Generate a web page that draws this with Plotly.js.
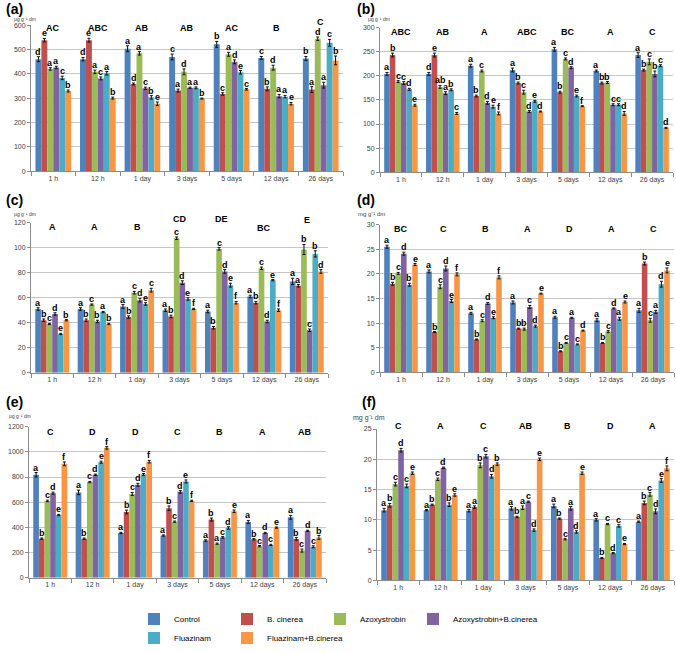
<!DOCTYPE html>
<html>
<head>
<meta charset="utf-8">
<script src="https://cdn.plot.ly/plotly-3.0.1.min.js"></script>
<style>
  html, body { margin: 0; padding: 0; background: #fff; }
  #chart { width: 676px; height: 653px; }
</style>
</head>
<body>
<div id="chart"></div>
<script>
// Sampling times, shared x categories of every panel
const times = ["1 h", "12 h", "1 day", "3 days", "5 days", "12 days", "26 days"];

// Treatments, one bar series each
const treatments = ["Control", "B. cinerea", "Azoxystrobin", "Azoxystrobin+B.cinerea", "Fluazinam", "Fluazinam+B.cinerea"];

// Panel (a) - rows follow treatments, columns follow times
const valuesA = [
  [461, 461, 504, 470, 522, 466, 464],
  [539, 539, 359, 332, 318, 339, 336],
  [421, 409, 485, 409, 481, 426, 545],
  [427, 382, 341, 343, 450, 309, 354],
  [384, 403, 304, 343, 407, 307, 528],
  [330, 301, 278, 299, 337, 278, 456]
];
const errorsA = [
  [10, 7, 12, 12, 12, 6, 8],
  [7, 8, 4, 6, 5, 8, 12],
  [5, 7, 7, 12, 8, 10, 7],
  [5, 6, 5, 3, 8, 7, 12],
  [7, 7, 7, 4, 7, 5, 14],
  [4, 4, 7, 2, 3, 5, 18]
];
const lettersA = [
  ["d", "d", "a", "c", "b", "c", "b"],
  ["e", "e", "d", "a", "c", "b", "a"],
  ["a", "a", "a", "d", "a", "d", "d"],
  ["a", "c", "c", "a", "d", "a", "a"],
  ["c", "a", "b", "a", "e", "a", "c"],
  ["b", "b", "e", "b", "c", "e", "b"]
];
const groupsA = ["AC", "ABC", "AB", "AB", "AC", "B", "C"];

// Panel (b)
const valuesB = [
  [204, 204, 221, 212, 255, 210, 243],
  [243, 243, 158, 185, 166, 185, 212],
  [188, 177, 210, 166, 235, 186, 229],
  [185, 164, 144, 126, 217, 140, 204],
  [172, 171, 136, 147, 158, 140, 221],
  [139, 122, 122, 126, 137, 122, 92]
];
const errorsB = [
  [3, 3, 3, 4, 4, 2, 5],
  [4, 4, 2, 2, 2, 2, 2],
  [2, 3, 2, 4, 2, 2, 6],
  [3, 3, 3, 2, 2, 2, 6],
  [2, 2, 3, 2, 2, 2, 2],
  [2, 2, 3, 1, 1, 4, 1]
];
const lettersB = [
  ["a", "d", "a", "a", "a", "a", "a"],
  ["b", "e", "b", "b", "b", "b", "b"],
  ["c", "ab", "c", "c", "c", "b", "c"],
  ["c", "a", "d", "d", "d", "c", "b"],
  ["d", "b", "e", "e", "e", "c", "c"],
  ["e", "c", "f", "d", "f", "d", "d"]
];
const groupsB = ["ABC", "AB", "A", "ABC", "BC", "A", "C"];

// Panel (c)
const valuesC = [
  [51, 51, 53, 50, 49, 61, 73],
  [42, 42, 44.5, 45, 36, 56, 69.5],
  [39, 54.5, 64, 107.5, 99, 83.5, 98.5],
  [47, 41, 58, 72, 81, 41, 34],
  [31, 48.5, 55, 59, 70, 74, 95],
  [42, 39, 66, 51, 56, 50, 81]
];
const errorsC = [
  [1, 1, 1.5, 1, 1, 1, 2.5],
  [1, 1, 1, 1, 1, 1, 1],
  [0.5, 0.5, 1, 1, 1, 1, 4],
  [1, 1, 1.5, 1.5, 1.5, 1, 1],
  [0.5, 0.5, 1, 1, 1.5, 0.5, 2.5],
  [0.5, 0.5, 1.5, 0.5, 1, 1, 1.5]
];
const lettersC = [
  ["a", "a", "a", "a", "a", "a", "a"],
  ["b", "b", "b", "b", "b", "b", "a"],
  ["c", "c", "c", "c", "c", "c", "b"],
  ["d", "b", "d", "d", "d", "d", "c"],
  ["e", "a", "e", "e", "e", "e", "b"],
  ["b", "b", "c", "f", "f", "f", "d"]
];
const groupsC = ["A", "A", "B", "CD", "DE", "BC", "E"];

// Panel (d)
const valuesD = [
  [25.5, 20.5, 12.0, 14.2, 11.2, 10.6, 12.6],
  [18.0, 8.2, 6.7, 8.9, 4.3, 6.0, 22.1],
  [20.1, 17.4, 10.5, 8.8, 6.0, 8.3, 10.6],
  [24.1, 21.1, 14.0, 13.3, 11.1, 13.0, 12.3],
  [17.8, 14.5, 11.1, 9.4, 5.7, 10.9, 17.9],
  [21.9, 19.9, 19.3, 16.0, 8.5, 14.3, 20.7]
];
const errorsD = [
  [0.3, 0.3, 0.2, 0.3, 0.2, 0.3, 0.4],
  [0.3, 0.1, 0.1, 0.1, 0.1, 0.1, 0.3],
  [0.2, 0.4, 0.2, 0.2, 0.1, 0.2, 0.4],
  [0.3, 0.5, 0.2, 0.3, 0.1, 0.1, 0.3],
  [0.3, 0.3, 0.2, 0.2, 0.1, 0.3, 0.6],
  [0.2, 0.3, 0.3, 0.1, 0.1, 0.2, 0.5]
];
const lettersD = [
  ["a", "a", "a", "a", "a", "a", "a"],
  ["b", "b", "b", "b", "b", "b", "b"],
  ["c", "c", "c", "b", "c", "c", "c"],
  ["d", "d", "d", "c", "a", "d", "a"],
  ["b", "e", "e", "d", "c", "a", "d"],
  ["e", "f", "f", "e", "d", "e", "e"]
];
const groupsD = ["BC", "C", "B", "A", "D", "A", "C"];

// Panel (e)
const valuesE = [
  [818, 678, 355, 335, 295, 443, 480],
  [310, 310, 522, 552, 462, 305, 308],
  [610, 760, 665, 445, 270, 250, 215],
  [672, 818, 738, 682, 320, 355, 372],
  [498, 918, 820, 765, 395, 260, 245],
  [905, 1032, 922, 610, 528, 398, 320]
];
const errorsE = [
  [18, 18, 5, 5, 6, 12, 15],
  [5, 5, 15, 18, 12, 5, 10],
  [6, 5, 12, 5, 5, 5, 12],
  [8, 5, 12, 10, 6, 5, 5],
  [5, 8, 8, 12, 10, 5, 8],
  [15, 10, 10, 5, 10, 5, 15]
];
const lettersE = [
  ["a", "a", "a", "a", "a", "a", "a"],
  ["b", "b", "b", "b", "b", "b", "b"],
  ["c", "c", "c", "c", "a", "c", "c"],
  ["d", "d", "d", "d", "c", "d", "d"],
  ["e", "e", "e", "e", "d", "c", "c"],
  ["f", "f", "f", "f", "e", "e", "b"]
];
const groupsE = ["C", "D", "D", "C", "B", "A", "AB"];

// Panel (f)
const valuesF = [
  [11.6, 11.6, 11.5, 11.9, 12.3, 10.0, 9.7],
  [12.4, 12.5, 12.1, 10.5, 10.2, 3.7, 12.8],
  [15.9, 16.7, 19.0, 12.0, 6.8, 9.3, 14.2],
  [21.5, 18.6, 20.5, 13.0, 11.9, 4.5, 11.4],
  [15.6, 12.5, 17.2, 8.3, 8.0, 9.0, 16.5],
  [17.7, 14.1, 19.2, 20.0, 17.7, 6.0, 18.5]
];
const errorsF = [
  [0.3, 0.1, 0.2, 0.3, 0.3, 0.2, 0.1],
  [0.3, 0.1, 0.2, 0.1, 0.1, 0.1, 0.3],
  [0.3, 0.2, 0.4, 0.3, 0.1, 0.1, 0.3],
  [0.3, 0.1, 0.3, 0.1, 0.3, 0.1, 0.4],
  [0.3, 0.3, 0.3, 0.2, 0.2, 0.2, 0.3],
  [0.2, 0.2, 0.2, 0.2, 0.2, 0.1, 0.4]
];
const lettersF = [
  ["a", "a", "a", "a", "a", "a", "a"],
  ["b", "b", "a", "b", "b", "b", "b"],
  ["c", "c", "b", "a", "c", "c", "c"],
  ["d", "d", "c", "c", "a", "d", "d"],
  ["c", "b", "d", "d", "d", "c", "e"],
  ["e", "e", "b", "e", "e", "e", "f"]
];
const groupsF = ["C", "A", "C", "AB", "B", "D", "A"];

// Excel 2007 style palette
const colors = ["#4F81BD", "#C0504D", "#9BBB59", "#8064A2", "#4BACC6", "#F79646"];

const W = 676, H = 653;
const FONT = "Liberation Sans, Arial, sans-serif";
const BARGAP = 0.2;

// Panel frames in pixels (left, right, top, bottom) and axis setup
const panels = [
  { tag: "(a)", unit: "µg g⁻¹ dm", values: valuesA, errors: errorsA, letters: lettersA, groups: groupsA,
    box: [31, 343, 25.7, 173.7], max: 600, dtick: 100, groupLevel: [590, 590, 590, 590, 590, 590, 612],
    tagPos: [4, 9], unitPos: [12, 19], unitSize: 5 },
  { tag: "(b)", unit: "µg g⁻¹ dm", values: valuesB, errors: errorsB, letters: lettersB, groups: groupsB,
    box: [380, 673, 28, 174.6], max: 300, dtick: 50, groupLevel: [291, 291, 291, 291, 291, 291, 291],
    tagPos: [355, 9], unitPos: [366, 19], unitSize: 5 },
  { tag: "(c)", unit: "µg g⁻¹ dm", values: valuesC, errors: errorsC, letters: lettersC, groups: groupsC,
    box: [31, 328, 225.7, 378], max: 120, dtick: 20, groupLevel: [116.3, 116.3, 116.3, 122.7, 123, 115.3, 122],
    tagPos: [4, 203], unitPos: [12, 217], unitSize: 5 },
  { tag: "(d)", unit: "mg g⁻¹ dm", values: valuesD, errors: errorsD, letters: lettersD, groups: groupsD,
    box: [380, 674, 227.7, 377.7], max: 30, dtick: 5, groupLevel: [29, 29, 29, 29, 29, 29, 29],
    tagPos: [355, 203], unitPos: [356, 217], unitSize: 6 },
  { tag: "(e)", unit: "µg g⁻¹ dm", values: valuesE, errors: errorsE, letters: lettersE, groups: groupsE,
    box: [29, 326, 432.7, 585.7], max: 1200, dtick: 200, groupLevel: [1161, 1161, 1161, 1161, 1161, 1161, 1161],
    tagPos: [4, 408], unitPos: [7, 422], unitSize: 5 },
  { tag: "(f)", unit: "mg g⁻¹ dm", values: valuesF, errors: errorsF, letters: lettersF, groups: groupsF,
    box: [377, 674, 435, 588.5], max: 25, dtick: 5, groupLevel: [25.5, 25.5, 25.5, 25.5, 25.5, 25.5, 25.5],
    tagPos: [360, 408], unitPos: [351, 424], unitSize: 7 }
];

// Legend laid out as four columns, two rows
const legendColumns = ["legend", "legend2", "legend3", "legend4", "legend", "legend2"];
const legendColumn = x => ({
  orientation: "v", x: x / W, xanchor: "left", y: 1 - 613 / H, yanchor: "top",
  font: { size: 8, color: "#000" }, itemwidth: 30, tracegroupgap: 0,
  bgcolor: "rgba(0,0,0,0)"
});

const traces = [];
const annotations = [];
const layout = {
  width: W,
  height: H,
  margin: { l: 0, r: 0, t: 0, b: 0 },
  paper_bgcolor: "#ffffff",
  plot_bgcolor: "#ffffff",
  barmode: "group",
  bargap: BARGAP,
  bargroupgap: 0,
  font: { family: FONT, color: "#404040" },
  showlegend: true,
  legend: legendColumn(134),
  legend2: legendColumn(227),
  legend3: legendColumn(320),
  legend4: legendColumn(413)
};

const slot = (1 - BARGAP) / treatments.length;

panels.forEach((panel, p) => {
  const n = p + 1;
  const xa = "x" + n, ya = "y" + n;
  const [left, right, top, bottom] = panel.box;
  const yDomain = [1 - bottom / H, 1 - top / H];

  layout["xaxis" + (n === 1 ? "" : n)] = {
    domain: [left / W, right / W],
    anchor: ya,
    type: "category",
    tickfont: { size: 7, color: "#404040" },
    showline: true, linecolor: "#8c8c8c", linewidth: 1,
    ticks: "outside", tickson: "boundaries", ticklen: 4, tickcolor: "#8c8c8c",
    showgrid: false, fixedrange: true
  };
  layout["yaxis" + (n === 1 ? "" : n)] = {
    domain: yDomain,
    anchor: xa,
    range: [0, panel.max],
    dtick: panel.dtick,
    tickfont: { size: 7, color: "#404040" },
    showgrid: true, gridcolor: "#c6c6c6", gridwidth: 1,
    showline: true, linecolor: "#8c8c8c", linewidth: 1,
    ticks: "outside", ticklen: 3, tickcolor: "#8c8c8c",
    zeroline: false, fixedrange: true
  };

  treatments.forEach((name, s) => {
    traces.push({
      type: "bar",
      name: name,
      x: times,
      y: panel.values[s],
      xaxis: xa,
      yaxis: ya,
      marker: { color: colors[s], line: { width: 0 } },
      error_y: { type: "data", array: panel.errors[s], color: "#111", thickness: 1, width: 1.5 },
      showlegend: p === 0,
      legend: legendColumns[s],
      hoverinfo: "name+y"
    });

    // significance letters over each bar
    panel.values[s].forEach((v, c) => {
      annotations.push({
        xref: xa, yref: ya,
        x: c + (s - (treatments.length - 1) / 2) * slot,
        y: v + panel.errors[s][c],
        text: "<b>" + panel.letters[s][c] + "</b>",
        showarrow: false, yanchor: "bottom", borderpad: 0, yshift: -1,
        font: { size: 9, color: "#000", family: FONT }
      });
    });
  });

  // group letters above each time point
  panel.groups.forEach((g, c) => {
    annotations.push({
      xref: xa, yref: "paper",
      x: c,
      y: yDomain[0] + (panel.groupLevel[c] / panel.max) * (yDomain[1] - yDomain[0]),
      text: "<b>" + g + "</b>",
      showarrow: false, yanchor: "middle",
      font: { size: 9, color: "#000", family: FONT }
    });
  });

  annotations.push({
    xref: "paper", yref: "paper",
    x: panel.tagPos[0] / W, y: 1 - panel.tagPos[1] / H,
    xanchor: "left", yanchor: "middle",
    text: "<b>" + panel.tag + "</b>", showarrow: false,
    font: { size: 14, color: "#000", family: FONT }
  });
  annotations.push({
    xref: "paper", yref: "paper",
    x: panel.unitPos[0] / W, y: 1 - panel.unitPos[1] / H,
    xanchor: "left", yanchor: "middle",
    text: panel.unit, showarrow: false,
    font: { size: panel.unitSize, color: "#404040", family: FONT }
  });
});

layout.annotations = annotations;

Plotly.newPlot("chart", traces, layout, { displayModeBar: false, staticPlot: true });
</script>
</body>
</html>
